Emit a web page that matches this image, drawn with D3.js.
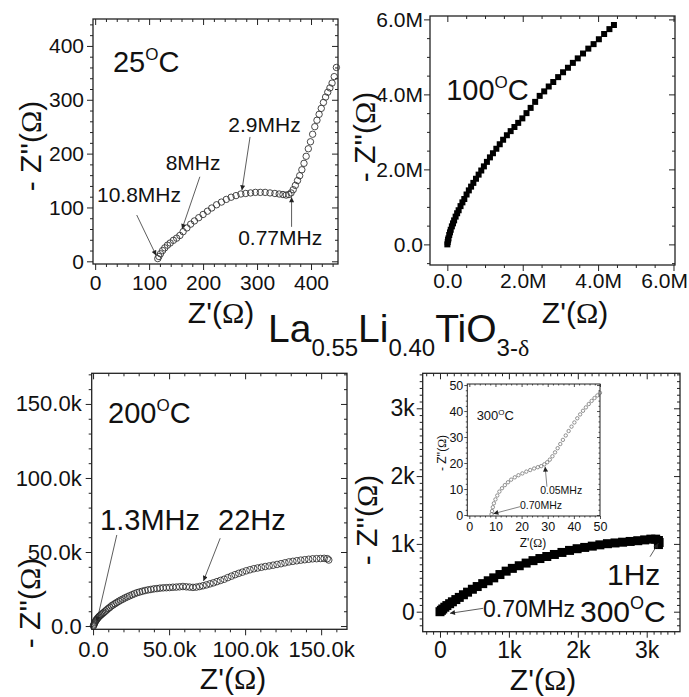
<!DOCTYPE html>
<html><head><meta charset="utf-8">
<script src="https://cdn.jsdelivr.net/npm/d3@7"></script>
<style>
body{margin:0;background:#fff}
svg{display:block;background:#fff}
text{font-family:"Liberation Sans",Arial,sans-serif;fill:#111}
</style></head><body>
<svg id="c" width="689" height="697"></svg>
<script>
// ---------------- DATA ----------------
// 25 C  (ohm)
const T25_ZRE = [116,118,121,125,129,134,139,145,151,157,163,170,177,184,192,200,208,216,225,234,243,252,261,270,279,288,297,306,315,324,333,341,348,354,359,363,367,371,375,379,383,387,391,395,399,403,407,411,415,419,423,427,431,435,439,443,447];
const T25_ZIM = [5,9,14,20,25,30,34,39,43,48,55,62,69,75,81,87,93,99,105,110,115,119,122,125,126,127,128,128,128,127,126,125,124,123,124,127,133,141,150,159,170,182,195,209,222,236,250,262,273,284,295,305,314,322,331,343,360];
// 100 C (Mohm)
const T100_ZRE = [0.00,0.01,0.02,0.03,0.05,0.07,0.09,0.12,0.15,0.18,0.22,0.26,0.30,0.35,0.40,0.45,0.51,0.57,0.63,0.69,0.76,0.83,0.90,0.97,1.05,1.13,1.21,1.30,1.39,1.48,1.58,1.68,1.78,1.88,1.99,2.10,2.21,2.33,2.45,2.57,2.69,2.81,2.94,3.07,3.20,3.33,3.46,3.60,3.74,3.88,4.02,4.16,4.30,4.42];
const T100_ZIM = [0.00,0.06,0.12,0.16,0.25,0.32,0.39,0.48,0.56,0.64,0.74,0.83,0.91,1.02,1.12,1.21,1.33,1.44,1.54,1.64,1.75,1.86,1.97,2.08,2.20,2.32,2.43,2.55,2.67,2.79,2.91,3.02,3.13,3.24,3.36,3.50,3.64,3.80,3.96,4.08,4.21,4.33,4.46,4.59,4.71,4.84,4.96,5.09,5.22,5.34,5.47,5.61,5.74,5.85];
// 200 C (kohm)
const T200_ZRE = [0.2,0.5,0.8,1.2,1.6,2.0,2.5,3.0,3.6,4.2,4.9,5.6,6.4,7.2,8.1,9.0,10.0,11.0,12.1,13.2,14.4,15.6,16.9,18.2,19.6,21.0,22.5,24.0,25.6,27.2,28.9,30.6,32.4,34.2,36.1,38.0,40.0,42.0,44.0,46.1,48.2,50.3,52.5,54.7,56.9,59.1,61.3,63.5,65.7,67.9,70.1,72.3,74.6,76.9,79.2,81.5,83.8,86.2,88.6,91.0,93.4,95.8,98.2,100.7,103.2,105.7,108.2,110.7,113.2,115.8,118.4,121.0,123.6,126.2,128.8,131.4,134.0,136.6,139.2,141.8,144.4,147.0,149.6,152.0,154.0,155.0];
const T200_ZIM = [0,0.75,1.5,2.4,3.2,4.0,4.6,5.3,6.0,6.7,7.3,7.9,8.6,9.3,10.1,10.9,11.8,12.6,13.6,14.3,15.1,15.9,16.7,17.5,18.2,19.0,19.7,20.4,21.1,21.8,22.5,23.0,23.5,24.0,24.4,24.7,25.1,25.3,25.6,25.8,25.9,26.0,26.2,26.3,26.5,26.7,26.5,26.3,26.1,26.3,26.7,27.2,27.8,28.5,29.2,30.0,30.8,31.6,32.7,33.7,34.7,35.6,36.4,37.3,38.0,38.7,39.2,39.7,40.2,40.6,41.1,41.6,42.1,42.7,43.3,43.7,44.1,44.5,44.8,45.1,45.4,45.5,45.6,45.7,45.5,44.6];
// 300 C (kohm)
const T300_ZRE = [0,0.02,0.04,0.07,0.10,0.14,0.18,0.23,0.28,0.34,0.40,0.47,0.54,0.62,0.70,0.78,0.87,0.96,1.05,1.15,1.25,1.35,1.45,1.55,1.66,1.77,1.88,1.99,2.10,2.21,2.32,2.43,2.54,2.65,2.76,2.87,2.97,3.06,3.13,3.17,3.18,3.17];
const T300_ZIM = [0,0.02,0.04,0.066,0.09,0.118,0.146,0.179,0.211,0.25,0.288,0.331,0.371,0.414,0.456,0.499,0.548,0.598,0.639,0.678,0.717,0.753,0.784,0.814,0.844,0.874,0.904,0.929,0.948,0.967,0.986,1.003,1.014,1.025,1.036,1.047,1.059,1.07,1.07,1.05,1.02,0.99];
// 300 C inset (ohm)
const T300IN_ZRE = [8.5,8.7,9.0,9.4,10.0,10.7,11.5,12.5,13.6,14.8,16.0,17.4,18.8,20.3,21.8,23.3,24.8,26.2,27.5,28.7,29.8,30.8,31.8,32.8,33.8,34.8,35.8,36.9,38.0,39.1,40.2,41.3,42.4,43.5,44.6,45.7,46.8,47.9,49.0,50.0];
const T300IN_ZIM = [0.3,1.5,3.0,4.5,6.0,7.5,9.0,10.3,11.5,12.6,13.6,14.5,15.3,16.0,16.7,17.3,17.9,18.4,18.8,19.5,20.3,21.3,22.6,24.1,25.7,27.3,28.9,30.6,32.3,34.0,35.6,37.2,38.7,40.1,41.4,42.7,43.9,45.0,46.0,47.0];

// tick values / labels
const P1_TICKS = [0,100,200,300,400];  const P1_LABELS = ['0','100','200','300','400'];
const P2_TICKS = [0,2,4,6];            const P2_LABELS = ['0.0','2.0M','4.0M','6.0M'];
const P3_TICKS = [0,50,100,150];       const P3_LABELS = ['0.0','50.0k','100.0k','150.0k'];
const P4_TICKS = [0,1,2,3];            const P4_LABELS = ['0','1k','2k','3k'];
const IN_TICKS = [0,10,20,30,40,50];   const IN_LABELS = ['0','10','20','30','40','50'];

// ---------------- DRAWING ----------------
const FONT = '"Liberation Sans", Arial, sans-serif';
const SERIF = '"Liberation Serif", "Times New Roman", serif';
const W = 689;
const svg = d3.select('#c');
const defs = svg.append('defs');
defs.append('marker').attr('id','ah').attr('viewBox','0 0 10 10').attr('refX',10).attr('refY',5)
  .attr('markerWidth',6).attr('markerHeight',5).attr('markerUnits','userSpaceOnUse').attr('orient','auto')
  .append('path').attr('d','M0,0L10,5L0,10z').attr('fill','#222');

function minors(dom, step, majors){
  const out=[]; const n0=Math.ceil(dom[0]/step-1e-9), n1=Math.floor(dom[1]/step+1e-9);
  for(let n=n0;n<=n1;n++){const v=+(n*step).toFixed(6); if(!majors.some(m=>Math.abs(m-v)<1e-6)) out.push(v);}
  return out;
}

function panel(c){
  const g = svg.append('g');
  const x = d3.scaleLinear().domain(c.xDom).range(c.xRange);
  const y = d3.scaleLinear().domain(c.yDom).range(c.yRange);
  const [xl,xr]=c.xRange, [yb,yt]=c.yRange;
  if(c.bg) g.append('rect').attr('x',xl).attr('y',yt).attr('width',xr-xl).attr('height',yb-yt).attr('fill','#fff');
  const xm = minors(c.xDom,c.xStep,c.ticks), ym = minors(c.yDom,c.yStep,c.ticks);
  const add=(axis,tr)=>{const a=g.append('g').attr('transform',tr).call(axis);a.select('.domain').remove();
    a.selectAll('line').attr('stroke','#222').attr('stroke-width',c.tw||1);
    a.selectAll('text').attr('font-size',c.fs).attr('font-family',FONT).attr('fill','#1a1a1a');return a;};
  const lab=(d)=>c.labels[c.ticks.indexOf(d)];
  add(d3.axisBottom(x).tickValues(xm).tickSize(c.tm).tickFormat(''),`translate(0,${yb})`);
  const bx = add(d3.axisBottom(x).tickValues(c.ticks).tickSize(c.tM).tickPadding(c.xPad).tickFormat(lab),`translate(0,${yb})`);
  add(d3.axisTop(x).tickValues(xm).tickSize(-c.tm).tickFormat(''),`translate(0,${yt})`);
  add(d3.axisTop(x).tickValues(c.ticks).tickSize(-c.tM).tickFormat(''),`translate(0,${yt})`);
  add(d3.axisLeft(y).tickValues(ym).tickSize(c.tm).tickFormat(''),`translate(${xl},0)`);
  add(d3.axisLeft(y).tickValues(c.ticks).tickSize(c.tM).tickPadding(c.yPad).tickFormat(lab),`translate(${xl},0)`);
  add(d3.axisRight(y).tickValues(ym).tickSize(-c.tm).tickFormat(''),`translate(${xr},0)`);
  add(d3.axisRight(y).tickValues(c.ticks).tickSize(-c.tM).tickFormat(''),`translate(${xr},0)`);
  // keep bottom tick labels inside the page
  bx.selectAll('.tick').each(function(){
    const t=d3.select(this).select('text'); const n=t.node(); if(!n) return;
    const b=n.getBBox(); const m=this.getCTM(); const right=m.e+b.x+b.width;
    if(right>W-1) t.attr('dx',(W-1-right));
  });
  g.append('rect').attr('x',xl).attr('y',yt).attr('width',xr-xl).attr('height',yb-yt)
    .attr('fill','none').attr('stroke','#222').attr('stroke-width',c.fw||1.3);
  return {g,x,y};
}

function zlabelX(g, cx, by, fs){
  const t=g.append('text').attr('x',cx).attr('y',by).attr('text-anchor','middle').attr('font-size',fs);
  t.append('tspan').text("Z'(");
  t.append('tspan').attr('font-family',SERIF).text('Ω');
  t.append('tspan').text(')');
}
function zlabelY(g, bx, cy, fs){
  const t=g.append('text').attr('transform',`translate(${bx},${cy}) rotate(-90)`).attr('text-anchor','middle').attr('font-size',fs);
  t.append('tspan').text("- Z''(");
  t.append('tspan').attr('font-family',SERIF).text('Ω');
  t.append('tspan').text(')');
}
function temp(P, zx, zy, num, fs, sfs){
  const t=P.g.append('text').attr('x',P.x(zx)).attr('y',P.y(zy)).attr('font-size',fs);
  t.append('tspan').text(num);
  t.append('tspan').attr('font-size',sfs).attr('dy',-0.42*fs).text('O');
  t.append('tspan').attr('dy',0.42*fs).text('C');
}
function note(P, zx, zy, s, fs){
  P.g.append('text').attr('x',P.x(zx)).attr('y',P.y(zy)).attr('font-size',fs).text(s);
}
function arrow(P, a, b, w){
  P.g.append('line').attr('x1',P.x(a[0])).attr('y1',P.y(a[1])).attr('x2',P.x(b[0])).attr('y2',P.y(b[1]))
    .attr('stroke','#333').attr('stroke-width',w||0.8).attr('marker-end','url(#ah)');
}
function circles(P, xs, ys, r, stroke, sw){
  P.g.append('g').selectAll('circle').data(xs.map((v,i)=>[v,ys[i]])).join('circle')
    .attr('cx',d=>P.x(d[0])).attr('cy',d=>P.y(d[1])).attr('r',r)
    .attr('fill','none').attr('stroke',stroke).attr('stroke-width',sw);
}
function squares(P, xs, ys, s){
  P.g.append('g').selectAll('rect').data(xs.map((v,i)=>[v,ys[i]])).join('rect')
    .attr('x',d=>P.x(d[0])-s/2).attr('y',d=>P.y(d[1])-s/2).attr('width',s).attr('height',s).attr('fill','#000');
}

// ---- Panel 1: 25 C
const P1 = panel({xDom:[-4,450],xRange:[93,338],yDom:[-5,450],yRange:[264,19],ticks:P1_TICKS,labels:P1_LABELS,
  xStep:20,yStep:20,tM:6,tm:3,fs:21,xPad:5,yPad:3});
circles(P1, T25_ZRE, T25_ZIM, 3.2, '#333', 0.9);
temp(P1, 33, 351, '25', 29, 17);
note(P1, 3.4, 110, '10.8MHz', 21);
arrow(P1, [77,86], [113,11]);
note(P1, 130.7, 169.6, '8MHz', 21);
arrow(P1, [194,157], [161,60]);
note(P1, 246.7, 240.7, '2.9MHz', 21);
arrow(P1, [287,231], [272,132]);
note(P1, 265, 30.3, '0.77MHz', 21);
arrow(P1, [364,64], [364,119]);
zlabelY(svg, 41, 146, 30);
zlabelX(svg, 221, 323, 30);

// ---- Panel 2: 100 C
const P2 = panel({xDom:[-0.46,6.04],xRange:[430,675],yDom:[-0.55,6.09],yRange:[265,16],ticks:P2_TICKS,labels:P2_LABELS,
  xStep:0.5,yStep:0.5,tM:6,tm:3,fs:21,xPad:2,yPad:1});
squares(P2, T100_ZRE, T100_ZIM, 6);
temp(P2, -0.03, 3.85, '100', 29, 17);
zlabelY(svg, 375, 137, 30);
zlabelX(svg, 575, 323, 30);

// ---- Title
{
  const t=svg.append('text').attr('x',268).attr('y',342).attr('font-size',39);
  t.append('tspan').text('La');
  t.append('tspan').attr('font-size',24).attr('dy',14).text('0.55');
  t.append('tspan').attr('dy',-14).text('Li');
  t.append('tspan').attr('font-size',24).attr('dy',14).text('0.40');
  t.append('tspan').attr('dy',-14).text('TiO');
  t.append('tspan').attr('font-size',24).attr('dy',14).text('3-');
  t.append('tspan').attr('font-size',24).attr('font-family',SERIF).text('δ');
}

// ---- Panel 3: 200 C
const P3 = panel({xDom:[-0.9,167],xRange:[91.7,347],yDom:[-2.2,170.7],yRange:[629.3,373.3],ticks:P3_TICKS,labels:P3_LABELS,
  xStep:10,yStep:10,tM:6,tm:3,fs:22,xPad:6,yPad:4});
circles(P3, T200_ZRE, T200_ZIM, 3.3, '#222', 0.8);
temp(P3, 9.9, 137, '200', 29, 17);
note(P3, 4.6, 64.9, '1.3MHz', 29);
arrow(P3, [15.6,61.5], [2.4,2.9]);
note(P3, 82.2, 64.9, '22Hz', 29);
arrow(P3, [83.6,59.3], [72.6,30.5]);
zlabelY(svg, 40, 603, 30);
zlabelX(svg, 233, 689, 30);

// ---- Panel 4: 300 C
const P4 = panel({xDom:[-0.251,3.483],xRange:[422.7,680],yDom:[-0.295,3.516],yRange:[631.7,373.3],ticks:P4_TICKS,labels:P4_LABELS,
  xStep:0.1,yStep:0.1,tM:6,tm:3,fs:23,xPad:4,yPad:2});
squares(P4, T300_ZRE, T300_ZIM, 9);
note(P4, 0.624, -0.074, '0.70MHz', 23);
arrow(P4, [0.628,0.05], [0.145,-0.024]);
note(P4, 2.424, 0.394, '1Hz', 30);
arrow(P4, [3.048,0.811], [3.168,1.009]);
temp(P4, 2.032, -0.147, '300', 30, 18);
zlabelY(svg, 377, 520, 30);
zlabelX(svg, 543, 690, 30);

// ---- Inset
const PI = panel({xDom:[-0.77,50.0],xRange:[467.3,600],yDom:[-0.38,50.4],yRange:[516,384],ticks:IN_TICKS,labels:IN_LABELS,
  xStep:2,yStep:2,tM:3,tm:1.5,fs:12.5,xPad:3,yPad:1,bg:true,tw:0.8,fw:1});
circles(PI, T300IN_ZRE, T300IN_ZIM, 1.7, '#666', 0.7);
temp(PI, 2.8, 36.5, '300', 13, 8);
note(PI, 27.1, 8, '0.05MHz', 10.5);
arrow(PI, [29.7,10.9], [29,18.6], 0.6);
note(PI, 19.4, 2.2, '0.70MHz', 10.5);
arrow(PI, [19.4,3.2], [9.2,0.5], 0.6);
zlabelY(svg, 446, 453, 12);
zlabelX(svg, 533, 547, 12);
</script>
</body></html>
